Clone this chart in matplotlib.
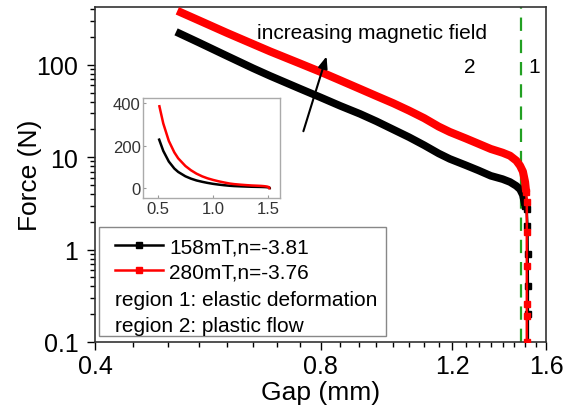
import matplotlib
matplotlib.use("Agg")
import matplotlib.pyplot as plt
from matplotlib.patches import Rectangle
from matplotlib.ticker import FixedLocator, MultipleLocator, LogLocator, NullFormatter, FuncFormatter

plt.rcParams["font.family"] = ["Liberation Sans", "DejaVu Sans"]

# Force-gap data (gap in mm, force in N)
black_gap = [0.513, 0.55, 0.60, 0.65, 0.685, 0.75, 0.80, 0.85, 0.903, 0.95, 1.00, 1.05,
             1.10, 1.15, 1.19, 1.25, 1.30, 1.35, 1.40, 1.432, 1.46, 1.477, 1.49, 1.50]
black_force = [228, 175, 125, 92, 76, 55.5, 44.5, 36, 29.5, 24.5, 20, 16.5,
               13.5, 11, 9.6, 8.2, 7.2, 6.3, 5.8, 5.4, 4.9, 4.5, 3.9, 3.0]
black_drop_gap = [1.50, 1.507, 1.511, 1.512, 1.513, 1.513, 1.513]
black_drop_force = [3.0, 2.76, 1.8, 0.9, 0.40, 0.2, 0.08]

red_gap = [0.515, 0.55, 0.60, 0.65, 0.685, 0.75, 0.80, 0.85, 0.903, 0.95, 1.00, 1.05,
           1.10, 1.15, 1.19, 1.25, 1.30, 1.35, 1.40, 1.432, 1.46, 1.477, 1.49, 1.50, 1.505]
red_force = [385, 304, 222, 168, 140, 104, 84, 68, 55, 46, 38.5, 32,
             26.5, 21.5, 18.8, 16, 14, 12.3, 11.2, 10.4, 9.2, 8.1, 7.0, 5.4, 4.2]
red_drop_gap = [1.505, 1.508, 1.508, 1.508, 1.508, 1.508, 1.508, 1.508]
red_drop_force = [4.2, 3.3, 1.55, 0.66, 0.26, 0.19, 0.1, 0.08]

black_label = "158mT,n=-3.81"
red_label = "280mT,n=-3.76"
region_lines = ["region 1: elastic deformation", "region 2: plastic flow"]
boundary_gap = 1.481

x_major = [0.4, 0.8, 1.2, 1.6]
y_major = [0.1, 1, 10, 100]
inset_xticks = [0.5, 1.0, 1.5]
inset_yticks = [0, 200, 400]

fig = plt.figure(figsize=(5.73, 4.14), dpi=100)
ax = fig.add_axes([0.166, 0.1715, 0.787, 0.8095])

# thick dense bands, then the sparse points of the drop
ax.plot(black_gap, black_force, color="black", lw=5.5, solid_capstyle="butt", zorder=3)
ax.plot(red_gap, red_force, color="red", lw=5.8, solid_capstyle="butt", zorder=4)
hb, = ax.plot(black_drop_gap, black_drop_force, color="black", lw=1.8, marker="s", ms=5,
              label=black_label, zorder=3)
hr, = ax.plot(red_drop_gap, red_drop_force, color="red", lw=1.8, marker="s", ms=5,
              label=red_label, zorder=4)

ax.axvline(boundary_gap, color="#22a022", lw=1.6, dashes=(6, 4), zorder=2)

ax.set_xscale("log")
ax.set_yscale("log")
ax.set_xlim(0.4, 1.6)
ax.set_ylim(0.1, 425)

ax.xaxis.set_major_locator(FixedLocator(x_major))
ax.xaxis.set_minor_locator(MultipleLocator(0.05))
ax.xaxis.set_major_formatter(FuncFormatter(lambda v, p: f"{v:.1f}"))
ax.xaxis.set_minor_formatter(NullFormatter())
ax.yaxis.set_major_locator(FixedLocator(y_major))
ax.yaxis.set_minor_locator(LogLocator(base=10, subs=range(2, 10)))
ax.yaxis.set_major_formatter(FuncFormatter(lambda v, p: f"{v:g}"))
ax.yaxis.set_minor_formatter(NullFormatter())

ax.tick_params(which="both", direction="out", top=False, right=False, labelsize=18, width=1)
ax.tick_params(which="major", length=6)
ax.tick_params(axis="x", which="major", pad=3)
ax.tick_params(axis="y", which="major", pad=6)
ax.tick_params(which="minor", length=3.5)
for s in ax.spines.values():
    s.set_linewidth(1.2)
    s.set_color("#333333")

ax.set_xlabel("Gap (mm)", fontsize=19, labelpad=1)
ax.set_ylabel("Force (N)", fontsize=19)
ax.yaxis.set_label_coords(-0.1175, 0.5)

ax.text(0.36, 0.925, "increasing magnetic field", transform=ax.transAxes, fontsize=15,
        ha="left", va="center")
ax.text(0.83, 0.821, "2", transform=ax.transAxes, fontsize=15, ha="center", va="center")
ax.text(0.973, 0.821, "1", transform=ax.transAxes, fontsize=15, ha="center", va="center")
ax.annotate("", xy=(0.515, 0.86), xytext=(0.46, 0.621), xycoords="axes fraction",
            arrowprops=dict(arrowstyle="-|>,head_length=0.5,head_width=0.2", color="black",
                            lw=1.5, mutation_scale=14),
            zorder=6)

# legend box: two series plus two plain text lines
ax.add_patch(Rectangle((0.0095, 0.017), 0.636, 0.327, transform=ax.transAxes,
                       fill=True, facecolor="white", edgecolor="#888888", lw=1, zorder=5))
ax.legend(handles=[hb, hr], loc="upper left", bbox_to_anchor=(0.044, 0.312), frameon=False,
          fontsize=15, handlelength=2.3, handletextpad=0.3, labelspacing=0.3,
          borderpad=0, borderaxespad=0).set_zorder(6)
for text, y in zip(region_lines, [0.126, 0.05]):
    ax.text(0.044, y, text, transform=ax.transAxes, fontsize=15, ha="left", va="center",
            zorder=6)

# inset with linear axes
ins = fig.add_axes([0.2504, 0.5186, 0.2382, 0.2423])
ins.plot(black_gap + black_drop_gap[1:], black_force + black_drop_force[1:], color="black", lw=1.8)
ins.plot(red_gap + red_drop_gap[1:], red_force + red_drop_force[1:], color="red", lw=1.8)
ins.set_xlim(0.371, 1.605)
ins.set_ylim(-48, 424)
ins.set_xticks(inset_xticks)
ins.set_yticks(inset_yticks)
ins.tick_params(direction="in", length=2, labelsize=12, labelcolor="#333333", color="#999999", pad=2)
for s in ins.spines.values():
    s.set_color("#aaaaaa")
    s.set_linewidth(1)

fig.savefig("out.png", dpi=100)
